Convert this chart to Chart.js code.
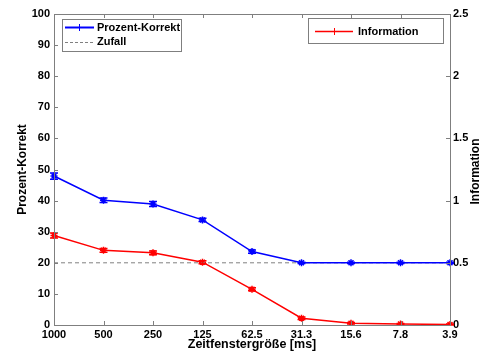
<!DOCTYPE html>
<html><head><meta charset="utf-8">
<script src="https://cdn.jsdelivr.net/npm/chart.js@4/dist/chart.umd.min.js"></script>
<style>html,body{margin:0;padding:0;background:#fff}#wrap{width:485px;height:356px}</style>
</head><body><div id="wrap"><canvas id="c" width="485" height="356"></canvas></div>
<script>
const categories = ['1000','500','250','125','62.5','31.3','15.6','7.8','3.9'];
const prozentKorrekt = [47.9, 40.1, 38.9, 33.8, 23.6, 20.0, 20.0, 20.0, 20.0];
const prozentErr = [1.0, 0.7, 0.8, 0.5, 0.5, 0.2, 0.2, 0.2, 0.2];
const zufall = [20, 20, 20, 20, 20, 20, 20, 20, 20];
const information = [0.72, 0.60, 0.58, 0.505, 0.287, 0.055, 0.014, 0.008, 0.004];
const informationErr = [0.02, 0.015, 0.015, 0.012, 0.012, 0.01, 0.006, 0.005, 0.005];
const leftTicks = [0,10,20,30,40,50,60,70,80,90,100];
const rightTicks = [0,0.5,1,1.5,2,2.5];

const AX = '#7f7f7f';
const FONT = 'Liberation Sans, Arial, sans-serif';

const errorBars = {
  id: 'errorBars',
  afterDatasetsDraw(chart) {
    const ctx = chart.ctx;
    const sets = [[0, prozentErr, 'y', '#0000ff'], [2, informationErr, 'y1', '#ff0000']];
    for (const [di, err, sid, col] of sets) {
      const meta = chart.getDatasetMeta(di);
      const sc = chart.scales[sid];
      const vals = chart.data.datasets[di].data;
      ctx.save(); ctx.strokeStyle = col; ctx.lineWidth = 1.5;
      meta.data.forEach((p, i) => {
        const y1 = sc.getPixelForValue(vals[i] - err[i]);
        const y2 = sc.getPixelForValue(vals[i] + err[i]);
        ctx.beginPath();
        ctx.moveTo(p.x, y1); ctx.lineTo(p.x, y2);
        ctx.moveTo(p.x - 4, y1); ctx.lineTo(p.x + 4, y1);
        ctx.moveTo(p.x - 4, y2); ctx.lineTo(p.x + 4, y2);
        ctx.stroke();
      });
      ctx.restore();
    }
  }
};

const frame = {
  id: 'frame',
  afterDraw(chart) {
    const ctx = chart.ctx, a = chart.chartArea;
    ctx.save();
    ctx.strokeStyle = AX; ctx.lineWidth = 1;
    ctx.strokeRect(Math.round(a.left) + 0.5, Math.round(a.top) + 0.5, Math.round(a.right - a.left), Math.round(a.bottom - a.top));
    ctx.beginPath();
    const y = chart.scales.y, y1 = chart.scales.y1, x = chart.scales.x;
    leftTicks.forEach(v => { const py = Math.round(y.getPixelForValue(v)) + 0.5; ctx.moveTo(a.left, py); ctx.lineTo(a.left + 4, py); });
    rightTicks.forEach(v => { const py = Math.round(y1.getPixelForValue(v)) + 0.5; ctx.moveTo(a.right, py); ctx.lineTo(a.right - 4, py); });
    categories.forEach((c, i) => { const px = Math.round(x.getPixelForValue(i)) + 0.5; ctx.moveTo(px, a.bottom); ctx.lineTo(px, a.bottom - 4); ctx.moveTo(px, a.top); ctx.lineTo(px, a.top + 4); });
    ctx.stroke();

    // right axis title (reads bottom to top)
    ctx.save();
    ctx.translate(476, (a.top + a.bottom) / 2 + 2);
    ctx.rotate(-Math.PI / 2);
    ctx.font = 'bold 12px ' + FONT;
    ctx.fillStyle = '#000'; ctx.textAlign = 'center'; ctx.textBaseline = 'middle';
    ctx.fillText('Information', 0, 0);
    ctx.restore();

    // legends
    ctx.font = 'bold 11px ' + FONT;
    ctx.textBaseline = 'middle'; ctx.textAlign = 'left';
    // left legend
    ctx.fillStyle = '#fff'; ctx.fillRect(62, 19, 119, 32);
    ctx.strokeStyle = AX; ctx.strokeRect(62.5, 19.5, 119, 32);
    ctx.strokeStyle = '#0000ff'; ctx.lineWidth = 2;
    ctx.beginPath(); ctx.moveTo(65, 27.5); ctx.lineTo(94, 27.5); ctx.stroke();
    ctx.lineWidth = 1; ctx.beginPath(); ctx.moveTo(79.5, 24); ctx.lineTo(79.5, 31); ctx.moveTo(76, 27.5); ctx.lineTo(83, 27.5); ctx.stroke();
    ctx.strokeStyle = '#808080'; ctx.setLineDash([3, 2]);
    ctx.beginPath(); ctx.moveTo(65, 42.5); ctx.lineTo(94, 42.5); ctx.stroke();
    ctx.setLineDash([]);
    ctx.fillStyle = '#000';
    ctx.fillText('Prozent-Korrekt', 97, 27.5);
    ctx.fillText('Zufall', 97, 42);
    // right legend
    ctx.fillStyle = '#fff'; ctx.fillRect(308, 18, 135, 25);
    ctx.strokeStyle = AX; ctx.strokeRect(308.5, 18.5, 135, 25);
    ctx.strokeStyle = '#ff0000'; ctx.lineWidth = 1.5;
    ctx.beginPath(); ctx.moveTo(315, 31.5); ctx.lineTo(353, 31.5); ctx.stroke();
    ctx.lineWidth = 1; ctx.beginPath(); ctx.moveTo(334.5, 28); ctx.lineTo(334.5, 35); ctx.moveTo(331, 31.5); ctx.lineTo(338, 31.5); ctx.stroke();
    ctx.fillStyle = '#000';
    ctx.fillText('Information', 358, 31.5);
    ctx.restore();
  }
};

new Chart(document.getElementById('c'), {
  type: 'line',
  data: {
    labels: categories,
    datasets: [
      { label: 'Prozent-Korrekt', data: prozentKorrekt, yAxisID: 'y', borderColor: '#0000ff', backgroundColor: '#0000ff', borderWidth: 1.5, pointStyle: 'star', pointRadius: 3.5, pointBorderWidth: 1.5, tension: 0 },
      { label: 'Zufall', data: zufall, yAxisID: 'y', borderColor: '#808080', borderWidth: 1, borderDash: [4, 3], pointRadius: 0, tension: 0 },
      { label: 'Information', data: information, yAxisID: 'y1', borderColor: '#ff0000', backgroundColor: '#ff0000', borderWidth: 1.5, pointStyle: 'star', pointRadius: 3.5, pointBorderWidth: 1.5, tension: 0 }
    ]
  },
  options: {
    responsive: false, animation: false,
    layout: { padding: { top: 14, left: 0, right: 0, bottom: 0 } },
    plugins: { legend: { display: false }, tooltip: { enabled: false } },
    scales: {
      x: {
        offset: false,
        grid: { display: false, drawTicks: false },
        border: { color: AX },
        ticks: { color: '#000', font: { family: FONT, size: 11, weight: 'bold' }, padding: 3, maxRotation: 0, autoSkip: false },
        title: { display: true, text: 'Zeitfenstergröße [ms]', color: '#000', font: { family: FONT, size: 12.5, weight: 'bold' }, padding: { top: 0, bottom: 4 } },
        afterFit(s) { s.height = 31; }
      },
      y: {
        position: 'left', min: 0, max: 100,
        grid: { display: false, drawTicks: false },
        border: { color: AX },
        afterBuildTicks(s) { s.ticks = leftTicks.map(v => ({ value: v })); },
        ticks: { color: '#000', font: { family: FONT, size: 11, weight: 'bold' }, padding: 4 },
        title: { display: true, text: 'Prozent-Korrekt', color: '#000', font: { family: FONT, size: 12, weight: 'bold' }, padding: { top: 15, bottom: 0 } },
        afterFit(s) { s.width = 54; }
      },
      y1: {
        position: 'right', min: 0, max: 2.5,
        grid: { display: false, drawTicks: false },
        border: { color: AX },
        afterBuildTicks(s) { s.ticks = rightTicks.map(v => ({ value: v })); },
        ticks: { color: '#000', font: { family: FONT, size: 11, weight: 'bold' }, padding: 3, callback: v => String(v) },
        title: { display: false },
        afterFit(s) { s.width = 35; }
      }
    }
  },
  plugins: [errorBars, frame]
});
</script></body></html>
